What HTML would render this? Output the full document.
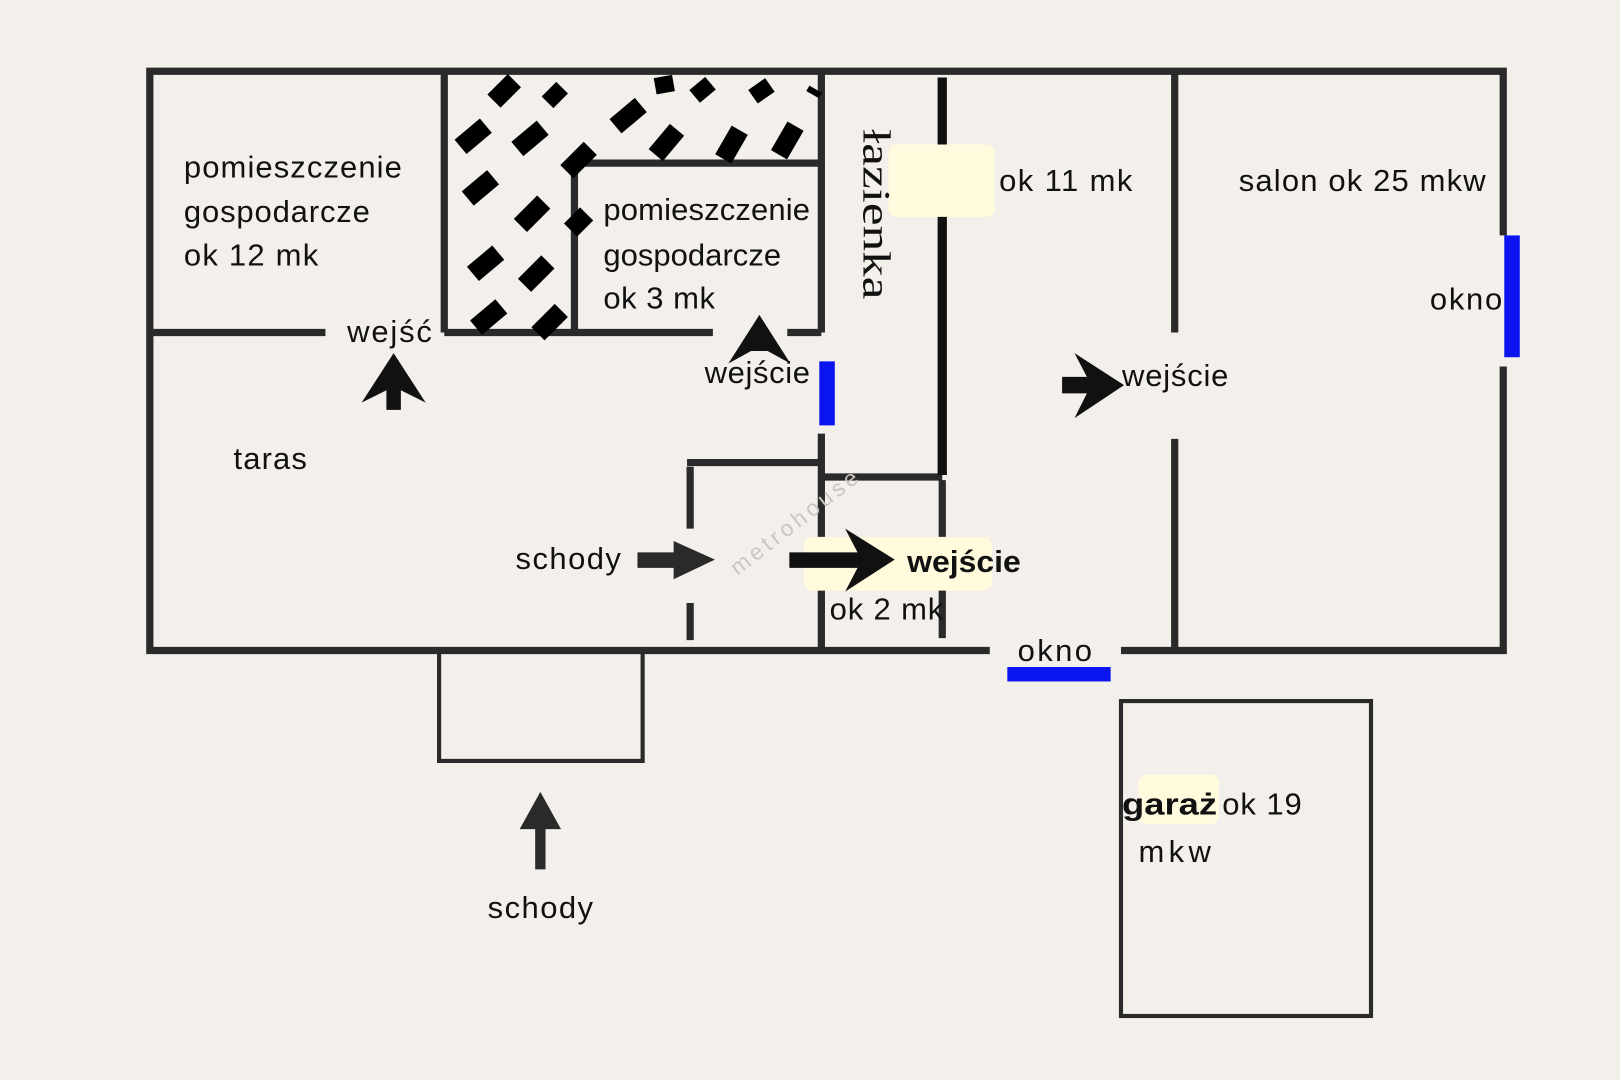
<!DOCTYPE html>
<html><head><style>
html,body{margin:0;padding:0;background:#f3efea;}
svg{display:block}
text{font-family:"Liberation Sans","DejaVu Sans",sans-serif;font-size:30px;fill:#111;}
</style></head><body>
<svg width="1620" height="1080" viewBox="0 0 1568 1046" preserveAspectRatio="none">
<rect width="1568" height="1046" fill="#f3efea"/>
<g stroke="#2a2a2a" stroke-width="7" fill="none">
<polyline points="1455,228 1455,69 145,69 145,630 958,630"/>
<polyline points="1085,630 1455,630 1455,355"/>
<line x1="430" y1="69" x2="430" y2="322"/>
<line x1="148" y1="322" x2="315" y2="322"/>
<line x1="430" y1="322" x2="690" y2="322"/>
<line x1="762" y1="322" x2="795" y2="322"/>
<line x1="556" y1="158" x2="556" y2="322"/>
<line x1="556" y1="158" x2="795" y2="158"/>
<line x1="795" y1="69" x2="795" y2="322"/>
<line x1="795" y1="420" x2="795" y2="630"/>
<line x1="795" y1="462" x2="912" y2="462"/>
<line x1="912" y1="75" x2="912" y2="460" stroke="#111" stroke-width="9"/>
<line x1="912" y1="465" x2="912" y2="618"/>
<line x1="1137" y1="69" x2="1137" y2="322"/>
<line x1="1137" y1="425" x2="1137" y2="630"/>
<line x1="665" y1="448" x2="795" y2="448"/>
<line x1="668" y1="452" x2="668" y2="620" stroke-dasharray="60,72,40"/>
<polyline points="425,630 425,737 622,737 622,630" stroke-width="4"/>
<rect x="1085" y="679" width="242" height="305" stroke-width="4"/>
</g>
<rect x="793" y="350" width="15" height="62" fill="#0a14ee"/>
<rect x="1456" y="228" width="15" height="118" fill="#0a14ee"/>
<rect x="975" y="646" width="100" height="14" fill="#0a14ee"/>
<g fill="#000">
<g transform="translate(488,88) rotate(-45)"><rect x="-14" y="-9" width="28" height="18"/></g>
<g transform="translate(537,92) rotate(-45)"><rect x="-10" y="-8" width="20" height="16"/></g>
<g transform="translate(643,82) rotate(-10)"><rect x="-9" y="-8" width="18" height="16"/></g>
<g transform="translate(680,87) rotate(-40)"><rect x="-10" y="-8" width="20" height="16"/></g>
<g transform="translate(737,88) rotate(-35)"><rect x="-10" y="-8" width="20" height="16"/></g>
<g transform="translate(788,89) rotate(30)"><rect x="-7" y="-3" width="14" height="6"/></g>
<g transform="translate(458,132) rotate(-40)"><rect x="-16" y="-9" width="32" height="18"/></g>
<g transform="translate(513,134) rotate(-40)"><rect x="-16" y="-9" width="32" height="18"/></g>
<g transform="translate(608,112) rotate(-40)"><rect x="-16" y="-9" width="32" height="18"/></g>
<g transform="translate(645,138) rotate(-50)"><rect x="-16" y="-9" width="32" height="18"/></g>
<g transform="translate(708,140) rotate(-60)"><rect x="-16" y="-9" width="32" height="18"/></g>
<g transform="translate(762,136) rotate(-60)"><rect x="-16" y="-9" width="32" height="18"/></g>
<g transform="translate(560,155) rotate(-45)"><rect x="-16" y="-9" width="32" height="18"/></g>
<g transform="translate(465,182) rotate(-40)"><rect x="-16" y="-9" width="32" height="18"/></g>
<g transform="translate(515,207) rotate(-45)"><rect x="-16" y="-9" width="32" height="18"/></g>
<g transform="translate(560,215) rotate(-45)"><rect x="-11" y="-9" width="22" height="18"/></g>
<g transform="translate(470,255) rotate(-40)"><rect x="-16" y="-9" width="32" height="18"/></g>
<g transform="translate(519,265) rotate(-45)"><rect x="-16" y="-9" width="32" height="18"/></g>
<g transform="translate(473,307) rotate(-40)"><rect x="-16" y="-9" width="32" height="18"/></g>
<g transform="translate(532,312) rotate(-45)"><rect x="-16" y="-9" width="32" height="18"/></g>
</g>
<rect x="860" y="140" width="103" height="70" rx="8" fill="#fffbdc"/>
<rect x="778" y="520" width="182" height="52" rx="8" fill="#fffbdc"/>
<rect x="1102" y="750" width="78" height="48" rx="8" fill="#fffbdc"/>
<g fill="#111">
<polygon points="381,342 412,390 388,378 388,397 374,397 374,378 350,390"/>
<polygon points="735,305 765,352 743,340 727,340 705,352"/>
<polygon points="1088,373 1040,342 1052,365 1028,365 1028,381 1052,381 1040,405"/>
<polygon points="692,542 652,524 652,535 617,535 617,550 652,550 652,561" fill="#2a2a2a"/>
<polygon points="866,542 818,512 830,535 764,535 764,550 830,550 818,573"/>
<polygon points="523,767 543,803 528,803 528,842 518,842 518,803 503,803" fill="#2a2a2a"/>
</g>
<text x="178" y="172" textLength="211">pomieszczenie</text>
<text x="178" y="215" textLength="180">gospodarcze</text>
<text x="178" y="257" textLength="130">ok 12 mk</text>
<text x="336" y="331" textLength="82">wejść</text>
<text x="584" y="213" textLength="200">pomieszczenie</text>
<text x="584" y="257" textLength="172">gospodarcze</text>
<text x="584" y="299" textLength="108">ok 3 mk</text>
<text x="682" y="371" textLength="102">wejście</text>
<text x="226" y="454" textLength="71">taras</text>
<text x="499" y="551" textLength="102">schody</text>
<text x="472" y="889" textLength="102">schody</text>
<text x="967" y="185" textLength="129">ok 11 mk</text>
<text x="1199" y="185" textLength="239">salon ok 25 mkw</text>
<text x="1384" y="300" textLength="70">okno</text>
<text x="1086" y="374" textLength="103">wejście</text>
<text x="985" y="640" textLength="72">okno</text>
<text x="803" y="600" textLength="110">ok 2 mk</text>
<text x="878" y="554" textLength="110" lengthAdjust="spacingAndGlyphs" style="font-weight:bold;font-size:30px">wejście</text>
<text x="1086" y="789" textLength="92" lengthAdjust="spacingAndGlyphs" style="font-weight:bold;font-size:30px">garaż</text>
<text x="1183" y="789" textLength="77">ok 19</text>
<text x="1102" y="835" textLength="70">mkw</text>
<text transform="translate(836,125) rotate(90)" textLength="165" lengthAdjust="spacingAndGlyphs" style="font-family:'Liberation Serif',serif;font-size:38px">łazienka</text>
<text transform="translate(714,558) rotate(-38)" textLength="150" style="fill:#cbc6c1;font-size:22px">metrohouse</text>
</svg>
</body></html>
